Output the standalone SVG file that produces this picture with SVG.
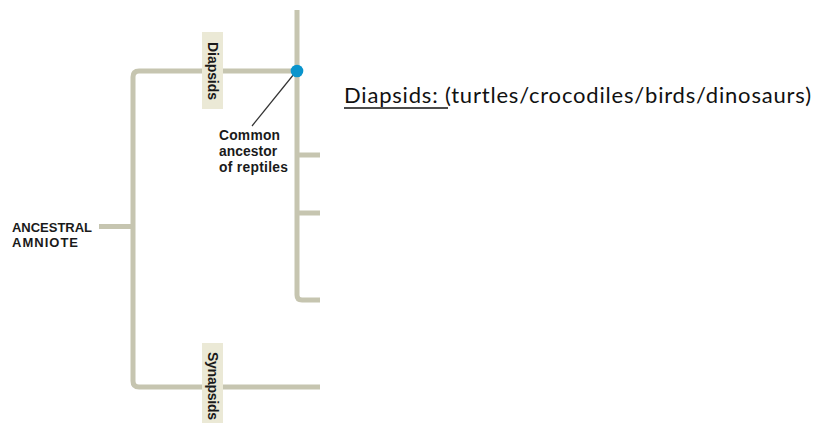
<svg xmlns="http://www.w3.org/2000/svg" width="817" height="423" viewBox="0 0 817 423">
<style>
.br{fill:none;stroke:#c6c5b0;stroke-width:5;stroke-linejoin:round}
.lbl{fill:#ebe9d6}
.bt{font-family:"Liberation Sans",Arial,sans-serif;font-weight:bold;fill:#1a1a1a}
.rt{font-family:"Lato","Open Sans",sans-serif;fill:#111;font-size:22px}
</style>
<rect width="817" height="423" fill="#fff"/>
<g id="connectors">
<path class="br" d="M297,10 V295 Q297,300 302,300 H320"/>
<path class="br" d="M297,155 H320 M297,213 H320"/>
<path class="br" d="M297,71 H139 Q133,71 133,77 V381 Q133,387 139,387 H320"/>
<path class="br" d="M99,226.5 H133"/>
<line x1="294" y1="74" x2="252" y2="126" stroke="#333" stroke-width="1.2"/>
</g>
<g id="diapsids-label">
<rect class="lbl" x="202" y="32" width="21" height="77"/>
<text class="bt" font-size="14" transform="translate(207.5,71) rotate(90)" text-anchor="middle" textLength="58">Diapsids</text>
</g>
<g id="synapsids-label">
<rect class="lbl" x="202" y="343" width="21" height="80"/>
<text class="bt" font-size="14" transform="translate(207.5,352) rotate(90)" textLength="68">Synapsids</text>
</g>
<g id="common-ancestor">
<circle cx="297" cy="71" r="6.3" fill="#0a94cc"/>
<text class="bt" font-size="13.8" x="219" y="140" textLength="61">Common</text>
<text class="bt" font-size="13.8" x="219" y="156" textLength="58">ancestor</text>
<text class="bt" font-size="13.8" x="219" y="172" textLength="69">of reptiles</text>
</g>
<g id="ancestral-amniote">
<text class="bt" font-size="13" x="12" y="232" textLength="80">ANCESTRAL</text>
<text class="bt" font-size="13" x="12" y="247" textLength="66">AMNIOTE</text>
</g>
<g id="diapsids-note">
<text class="rt" x="344" y="103" textLength="467">Diapsids: (turtles/crocodiles/birds/dinosaurs)</text>
<line x1="344" y1="108" x2="448" y2="108" stroke="#111" stroke-width="1.6"/>
</g>
</svg>
